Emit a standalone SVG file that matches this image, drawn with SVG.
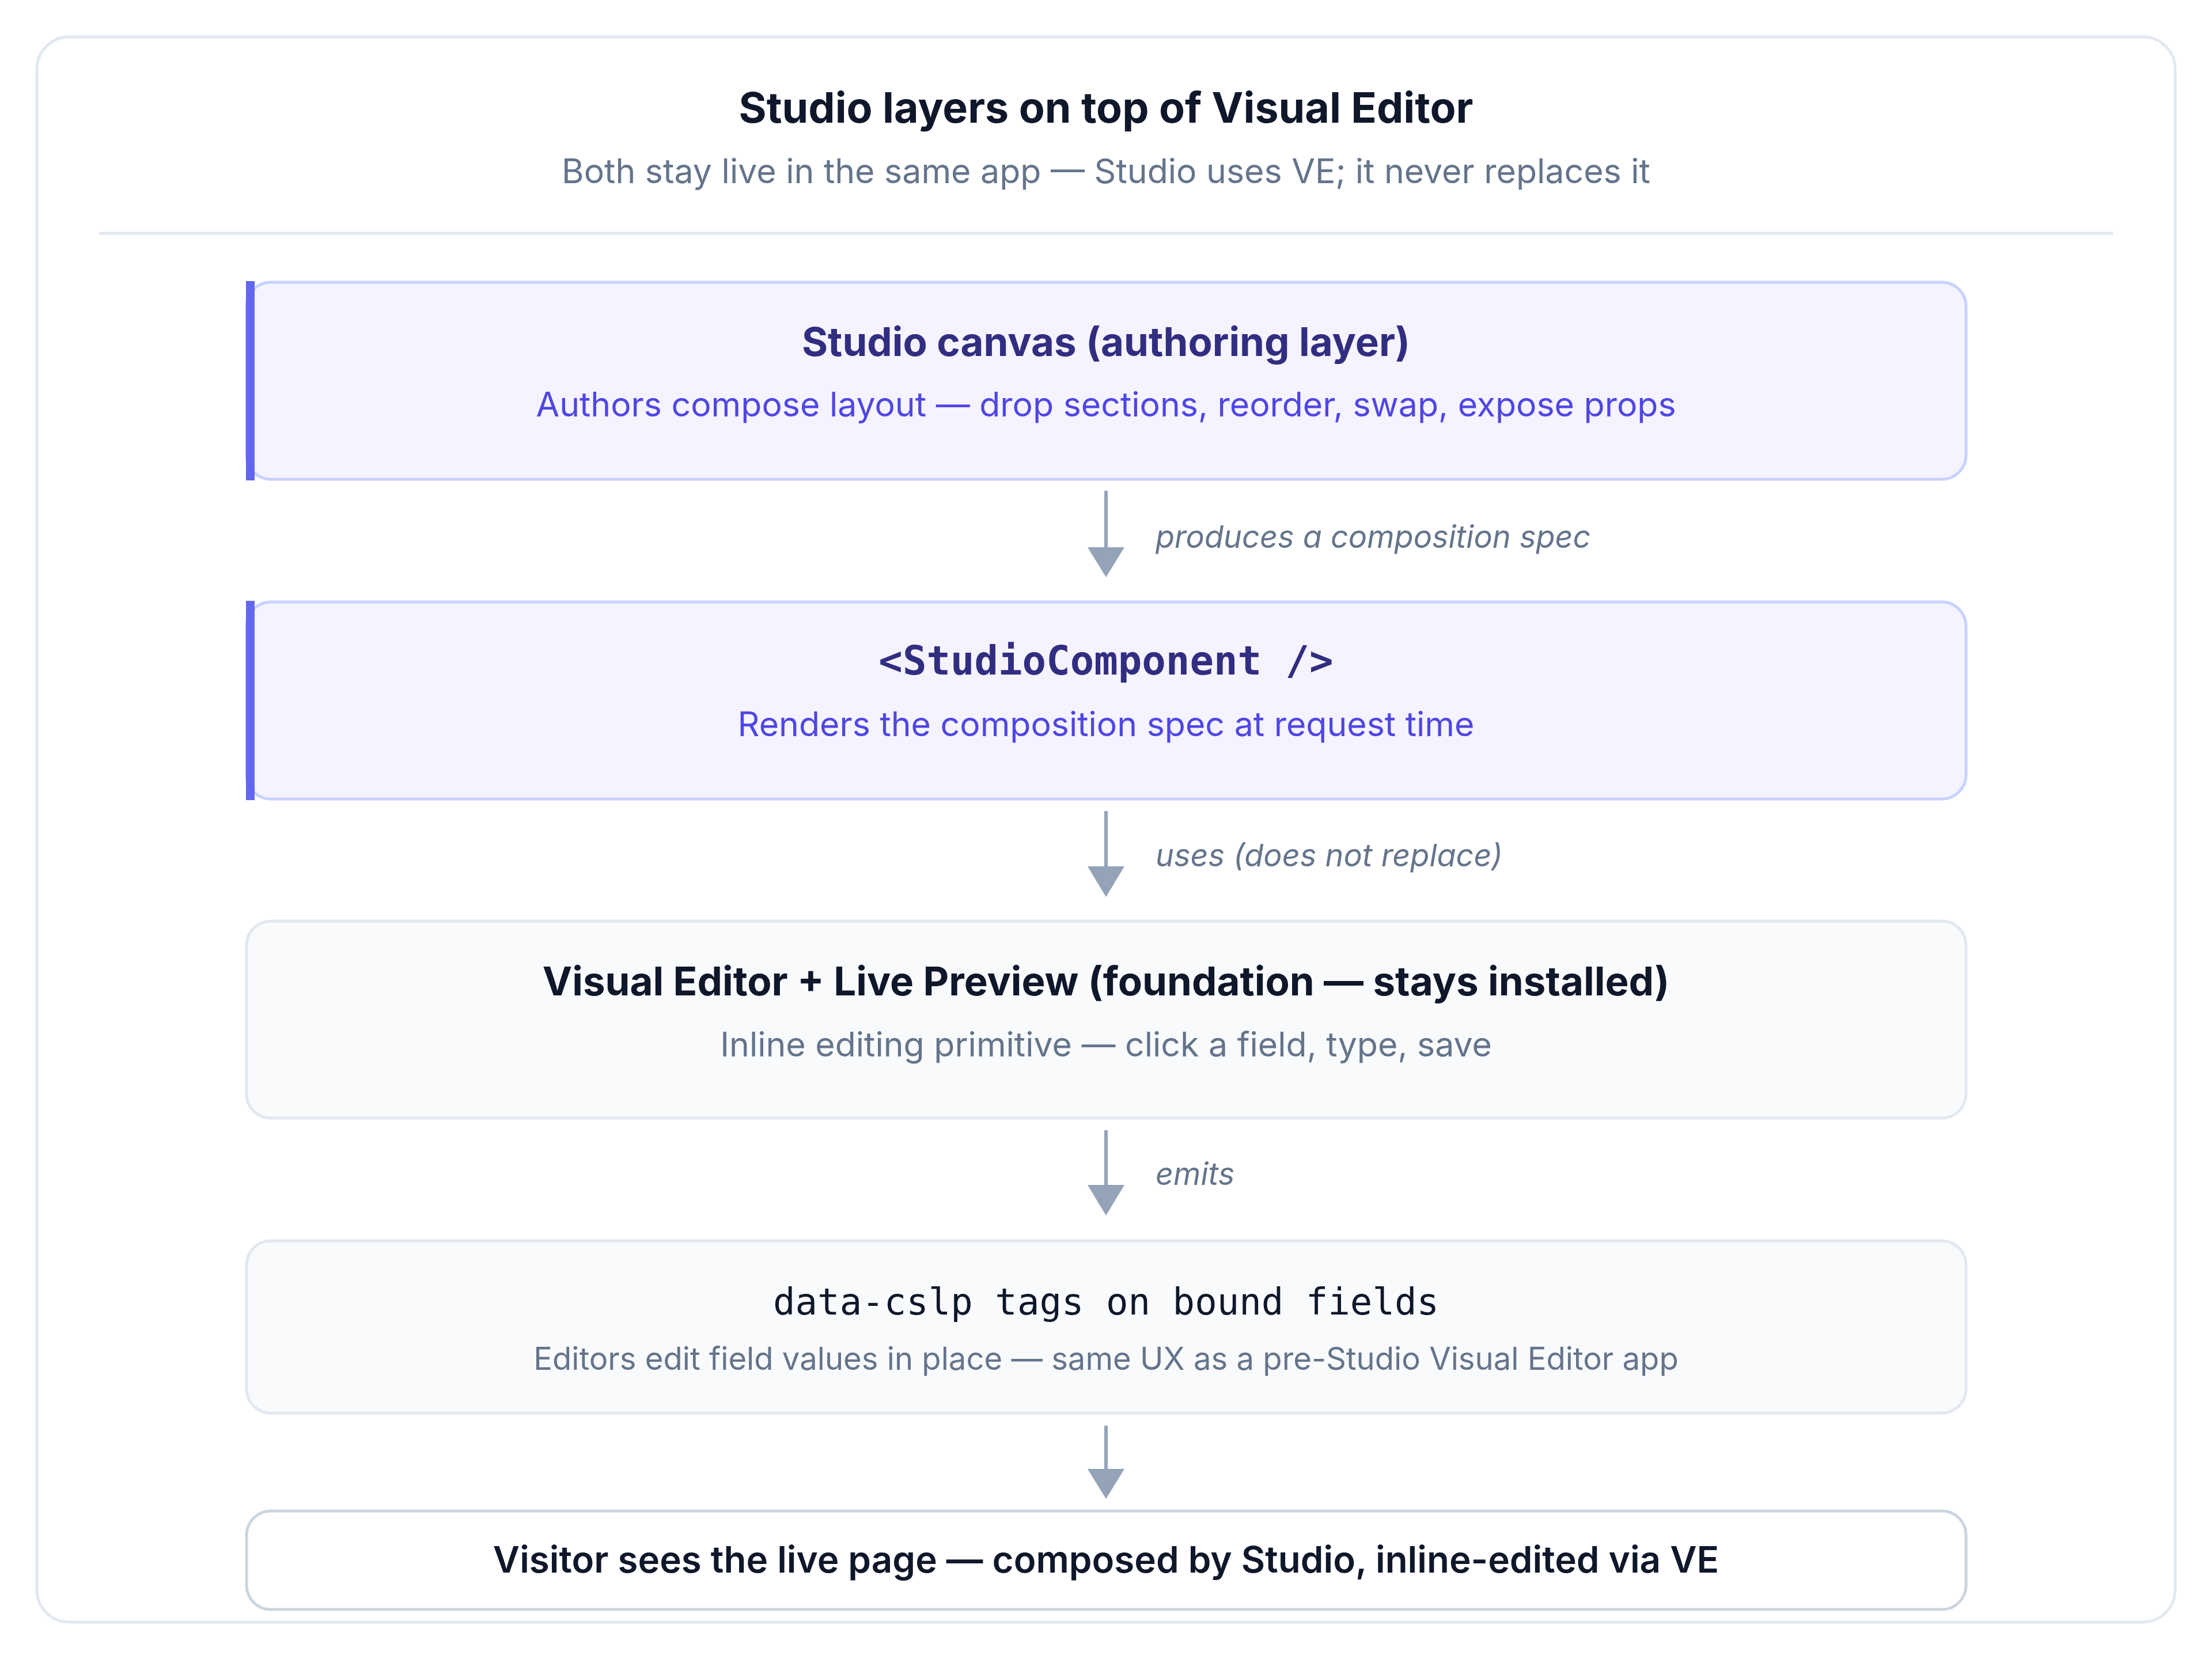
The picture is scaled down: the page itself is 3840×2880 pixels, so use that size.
<svg xmlns="http://www.w3.org/2000/svg" width="3840" height="2880" viewBox="0 0 3840 2880">
<defs>
<style>
.sans{font-family:Inter,"Noto Sans","Liberation Sans",sans-serif}
.mono{font-family:"DejaVu Sans Mono","Liberation Mono",monospace}
.h1{font-size:73.5px;font-weight:700;fill:#0f172a}
.h1sub{font-size:59px;fill:#64748b}
.ttl{font-size:69px;font-weight:700}
.sub{font-size:59px}
.lbl{font-size:54px;font-style:italic;fill:#64748b}
.studio rect.box{fill:#f5f3ff;stroke:#c7d2fe;stroke-width:5}
.studio rect.bar{fill:#6366f1}
.plain rect.box{fill:#f8fafc;stroke:#e2e8f0;stroke-width:5}
.shaft{stroke:#94a3b8;stroke-width:6}
.head{fill:#94a3b8}
</style>
</defs>
<rect width="3840" height="2880" fill="#ffffff"/>
<g id="card">
<rect x="64" y="64" width="3712" height="2752" rx="56" fill="#ffffff" stroke="#e2e8f0" stroke-width="5"/>
<text class="sans h1" x="1920" y="213" text-anchor="middle">Studio layers on top of Visual Editor</text>
<text class="sans h1sub" x="1920" y="318" text-anchor="middle">Both stay live in the same app — Studio uses VE; it never replaces it</text>
<line x1="172" y1="405" x2="3668" y2="405" stroke="#e2e8f0" stroke-width="5"/>
</g>
<g id="connectors">
<line class="shaft" x1="1920" y1="852" x2="1920" y2="952"/>
<polygon class="head" points="1888,950 1952,950 1920,1002"/>
<text class="sans lbl" x="2006" y="951">produces a composition spec</text>
<line class="shaft" x1="1920" y1="1408" x2="1920" y2="1506"/>
<polygon class="head" points="1888,1504 1952,1504 1920,1557"/>
<text class="sans lbl" x="2006" y="1504">uses (does not replace)</text>
<line class="shaft" x1="1920" y1="1962" x2="1920" y2="2059"/>
<polygon class="head" points="1888,2057 1952,2057 1920,2110"/>
<text class="sans lbl" x="2006" y="2057">emits</text>
<line class="shaft" x1="1920" y1="2475" x2="1920" y2="2552"/>
<polygon class="head" points="1888,2550 1952,2550 1920,2602"/>
</g>
<g id="studio-canvas" class="studio">
<rect class="box" x="428" y="490" width="2985" height="342" rx="42"/>
<rect class="bar" x="427" y="488" width="15" height="346"/>
<text class="sans ttl" x="1920" y="618" text-anchor="middle" fill="#312e81">Studio canvas (authoring layer)</text>
<text class="sans sub" x="1920" y="723" text-anchor="middle" fill="#4f46e5">Authors compose layout — drop sections, reorder, swap, expose props</text>
</g>
<g id="studio-component" class="studio">
<rect class="box" x="428" y="1045" width="2985" height="342" rx="42"/>
<rect class="bar" x="427" y="1043" width="15" height="346"/>
<text class="mono" x="1920" y="1171" text-anchor="middle" font-size="69" font-weight="700" fill="#312e81">&lt;StudioComponent /&gt;</text>
<text class="sans sub" x="1920" y="1278" text-anchor="middle" fill="#4f46e5">Renders the composition spec at request time</text>
</g>
<g id="visual-editor" class="plain">
<rect class="box" x="428" y="1599" width="2985" height="342" rx="42"/>
<text class="sans ttl" x="1920" y="1728" text-anchor="middle" fill="#0f172a">Visual Editor + Live Preview (foundation — stays installed)</text>
<text class="sans sub" x="1920" y="1834" text-anchor="middle" fill="#64748b">Inline editing primitive — click a field, type, save</text>
</g>
<g id="data-cslp" class="plain">
<rect class="box" x="428" y="2154" width="2985" height="299" rx="42"/>
<text class="mono" x="1920" y="2282" text-anchor="middle" font-size="64" fill="#0f172a">data-cslp tags on bound fields</text>
<text class="sans" x="1920" y="2378" text-anchor="middle" font-size="54.4" fill="#64748b">Editors edit field values in place — same UX as a pre-Studio Visual Editor app</text>
</g>
<g id="visitor">
<rect x="428" y="2623" width="2985" height="171" rx="42" fill="#ffffff" stroke="#cbd5e1" stroke-width="5"/>
<text class="sans" x="1920" y="2730" text-anchor="middle" font-size="63.7" font-weight="600" fill="#0f172a">Visitor sees the live page — composed by Studio, inline-edited via VE</text>
</g>
</svg>
